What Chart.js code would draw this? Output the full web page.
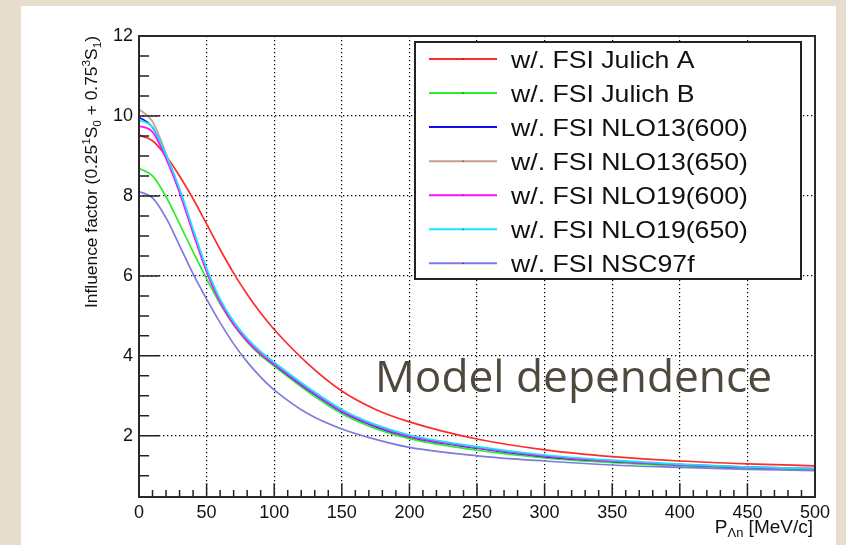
<!DOCTYPE html>
<html>
<head>
<meta charset="utf-8">
<script src="https://cdn.jsdelivr.net/npm/chart.js@4.4.0/dist/chart.umd.min.js"></script>
<style>
  html, body { margin: 0; padding: 0; }
  body { width: 846px; height: 545px; background: #e6ddcf; position: relative; overflow: hidden; }
  #panel { position: absolute; left: 21px; top: 6px; width: 815px; height: 539px; background: #fff; }
  #myChart { position: absolute; left: 0; top: 0; }
</style>
</head>
<body>
<div id="panel"></div>
<canvas id="myChart" width="846" height="545"></canvas>
<script>
// momentum P_Λn [MeV/c]
const momenta = [0, 10, 20, 30, 40, 50, 60, 70, 80, 90, 100, 125, 150, 175, 200, 250, 300, 350, 400, 450, 500];

// influence factor for each potential model
const julichA   = [9.52, 9.38, 9.00, 8.50, 7.93, 7.30, 6.66, 6.07, 5.54, 5.07, 4.66, 3.80, 3.12, 2.66, 2.35, 1.92, 1.65, 1.48, 1.37, 1.30, 1.25];
const julichB   = [8.69, 8.50, 7.98, 7.30, 6.60, 5.93, 5.30, 4.77, 4.35, 4.01, 3.74, 3.10, 2.55, 2.18, 1.93, 1.64, 1.45, 1.33, 1.24, 1.18, 1.15];
const nlo13_600 = [9.97, 9.72, 9.00, 8.12, 7.10, 6.13, 5.36, 4.80, 4.38, 4.05, 3.78, 3.15, 2.60, 2.23, 1.97, 1.69, 1.48, 1.36, 1.27, 1.21, 1.17];
const nlo13_650 = [10.17, 9.86, 9.06, 8.16, 7.14, 6.17, 5.40, 4.84, 4.42, 4.08, 3.81, 3.18, 2.63, 2.26, 1.99, 1.71, 1.50, 1.37, 1.28, 1.22, 1.18];
const nlo19_600 = [9.75, 9.60, 8.93, 8.08, 7.07, 6.10, 5.34, 4.79, 4.37, 4.05, 3.79, 3.17, 2.62, 2.25, 1.99, 1.71, 1.50, 1.37, 1.28, 1.22, 1.18];
const nlo19_650 = [9.90, 9.72, 9.02, 8.18, 7.17, 6.19, 5.42, 4.86, 4.44, 4.11, 3.84, 3.21, 2.66, 2.28, 2.02, 1.73, 1.52, 1.39, 1.29, 1.22, 1.18];
const nsc97f    = [8.11, 7.95, 7.45, 6.76, 6.05, 5.42, 4.83, 4.30, 3.85, 3.47, 3.15, 2.55, 2.17, 1.91, 1.71, 1.50, 1.37, 1.27, 1.21, 1.16, 1.13];

const seriesLabels = ['w/. FSI Julich A', 'w/. FSI Julich B', 'w/. FSI NLO13(600)', 'w/. FSI NLO13(650)',
                      'w/. FSI NLO19(600)', 'w/. FSI NLO19(650)', 'w/. FSI NSC97f'];
const seriesValues = [julichA, julichB, nlo13_600, nlo13_650, nlo19_600, nlo19_650, nsc97f];
const seriesColors = ['#ff2a2a', '#2aee2a', '#1010e8', '#c89c90', '#ff10ff', '#10e8ff', '#7c7cdc'];

const xTicks = [0, 50, 100, 150, 200, 250, 300, 350, 400, 450, 500];
const yTicks = [2, 4, 6, 8, 10, 12];

const ROOT_FONT = '"Liberation Sans", Arial, sans-serif';

// draw a run of text pieces (normal / sup / sub) and return its length
function drawPieces(ctx, pieces, size, draw) {
  let pos = 0;
  pieces.forEach(p => {
    const s = p.kind === 'n' ? size : size * 0.68;
    const dy = p.kind === 'sup' ? -size * 0.42 : (p.kind === 'sub' ? size * 0.22 : 0);
    ctx.font = s + 'px ' + ROOT_FONT;
    if (draw) ctx.fillText(p.t, pos, dy);
    pos += ctx.measureText(p.t).width;
  });
  return pos;
}

const decorations = {
  id: 'decorations',
  afterDraw(chart) {
    const {ctx, chartArea: a, scales: {x, y}} = chart;
    ctx.save();

    // inward ticks, ROOT style
    ctx.strokeStyle = '#222';
    ctx.lineWidth = 1.5;
    ctx.beginPath();
    for (let v = 0; v <= 500; v += 10) {
      const px = x.getPixelForValue(v);
      const len = v % 50 === 0 ? 13.8 : 6.9;
      ctx.moveTo(px, a.bottom);
      ctx.lineTo(px, a.bottom - len);
    }
    for (let v = 1; v <= 12; v += 0.5) {
      const py = y.getPixelForValue(v);
      const len = v % 2 === 0 ? 20.3 : 10.1;
      ctx.moveTo(a.left, py);
      ctx.lineTo(a.left + len, py);
    }
    ctx.stroke();

    // frame
    ctx.lineWidth = 2;
    ctx.strokeStyle = '#2a2a2a';
    ctx.strokeRect(a.left, a.top, a.right - a.left, a.bottom - a.top);

    // legend box
    const lx = 415, ly = 42, lw = 386, lh = 237;
    ctx.fillStyle = '#fff';
    ctx.fillRect(lx, ly, lw, lh);
    ctx.lineWidth = 2;
    ctx.strokeStyle = '#222';
    ctx.strokeRect(lx, ly, lw, lh);
    chart.data.datasets.forEach((ds, i) => {
      const cy = 59 + i * 34.05;
      ctx.strokeStyle = ds.borderColor;
      ctx.lineWidth = 2;
      ctx.beginPath();
      ctx.moveTo(429, cy);
      ctx.lineTo(497, cy);
      ctx.stroke();
      ctx.fillStyle = '#333';
      ctx.fillRect(462.5, cy - 0.5, 1.2, 1.2);
      ctx.save();
      ctx.translate(511, cy + 8.5);
      ctx.scale(1.11, 1);
      ctx.font = '24px ' + ROOT_FONT;
      ctx.fillStyle = '#111';
      ctx.textBaseline = 'alphabetic';
      ctx.fillText(ds.label, 0, 0);
      ctx.restore();
    });

    // y axis title with super/subscripts
    const yTitle = [
      {t: 'Influence factor (0.25', kind: 'n'}, {t: '1', kind: 'sup'}, {t: 'S', kind: 'n'}, {t: '0', kind: 'sub'},
      {t: ' + 0.75', kind: 'n'}, {t: '3', kind: 'sup'}, {t: 'S', kind: 'n'}, {t: '1', kind: 'sub'}, {t: ')', kind: 'n'}
    ];
    ctx.fillStyle = '#111';
    ctx.textBaseline = 'alphabetic';
    const ySize = 17;
    const yLen = drawPieces(ctx, yTitle, ySize, false);
    const target = 272;
    ctx.save();
    ctx.translate(97, a.top + target);
    ctx.rotate(-Math.PI / 2);
    ctx.scale(target / yLen, 1);
    drawPieces(ctx, yTitle, ySize, true);
    ctx.restore();

    // x axis title
    const xTitle = [{t: 'P', kind: 'n'}, {t: 'Λn', kind: 'sub'}, {t: ' [MeV/c]', kind: 'n'}];
    const xSize = 19;
    const xLen = drawPieces(ctx, xTitle, xSize, false);
    ctx.save();
    ctx.translate(a.right - 2 - xLen, 533);
    drawPieces(ctx, xTitle, xSize, true);
    ctx.restore();

    // overlay caption
    ctx.font = '500 44px "Open Sans", "Noto Sans", sans-serif';
    const cw = ctx.measureText('Model dependence').width;
    ctx.save();
    ctx.translate(375, 392);
    ctx.scale(397 / cw, 1);
    ctx.fillStyle = '#4f483d';
    ctx.fillText('Model dependence', 0, 0);
    ctx.restore();

    ctx.restore();
  }
};

const data = {
  datasets: seriesLabels.map((label, i) => ({
    label: label,
    data: momenta.map((p, j) => ({x: p, y: seriesValues[i][j]})),
    borderColor: seriesColors[i],
    backgroundColor: seriesColors[i],
    borderWidth: 1.7,
    pointRadius: 0,
    fill: false,
    cubicInterpolationMode: 'monotone',
    order: seriesLabels.length - i
  }))
};

const tickFont = {family: ROOT_FONT, size: 18};

const config = {
  type: 'line',
  data: data,
  options: {
    responsive: false,
    animation: false,
    layout: {padding: {top: 36, right: 31, bottom: 0, left: 0}},
    plugins: {legend: {display: false}, tooltip: {enabled: false}},
    scales: {
      x: {
        type: 'linear',
        min: 0,
        max: 500,
        afterBuildTicks: s => { s.ticks = xTicks.map(v => ({value: v})); },
        afterFit: s => { s.height = 48; },
        ticks: {font: tickFont, color: '#111', padding: 5, maxRotation: 0, autoSkip: false},
        grid: {color: '#000', lineWidth: 1.2, drawTicks: false},
        border: {display: false, dash: [1.3, 2.7]}
      },
      y: {
        type: 'linear',
        min: 0.47,
        max: 12,
        afterBuildTicks: s => { s.ticks = yTicks.map(v => ({value: v})); },
        afterFit: s => { s.width = 139; },
        ticks: {font: tickFont, color: '#111', padding: 6},
        grid: {color: '#000', lineWidth: 1.2, drawTicks: false},
        border: {display: false, dash: [1.3, 2.7]}
      }
    }
  },
  plugins: [decorations]
};

let myChart = new Chart(document.getElementById('myChart'), config);
</script>
</body>
</html>
